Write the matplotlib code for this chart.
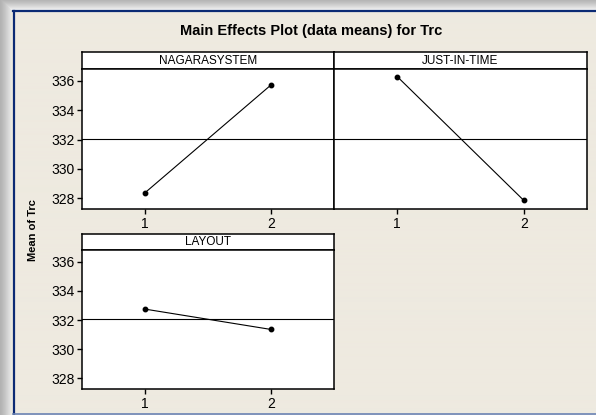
import numpy as np
import matplotlib
matplotlib.use('Agg')
import matplotlib.pyplot as plt

plt.rcParams['font.family'] = ['Liberation Sans', 'DejaVu Sans']

# level means of Trc for each factor
levels = [1, 2]
factors = ['NAGARASYSTEM', 'JUST-IN-TIME', 'LAYOUT']
nagara_means = [328.36, 335.73]
jit_means = [336.30, 327.84]
layout_means = [332.75, 331.35]
y_ticks = [328, 330, 332, 334, 336]

W, H = 596, 415


def px_box(left, top, right, bottom):
    return [left / W, 1 - bottom / H, (right - left) / W, (bottom - top) / H]


def draw_background(fig):
    bg = fig.add_axes([0, 0, 1, 1], zorder=-10)
    img = np.ones((H, W, 3)) * np.array([238, 234, 224]) / 255.
    # soft window shadow along the top and left edges
    for i in range(11):
        g = 0.70 + 0.24 * (i / 10.) ** 1.2
        img[i, i:, :] = g
    for j in range(13):
        g = 0.70 + 0.24 * (j / 12.) ** 1.2
        img[j:, j, :] = np.minimum(img[j:, j, :], g)
    bg.imshow(img, extent=(0, W, H, 0), aspect='auto', interpolation='bilinear')
    bg.plot([13, W], [11.5, 11.5], color='#0B2A74', lw=1.6)
    bg.plot([13.5, 13.5], [11, H], color='#0B2A74', lw=1.6)
    bg.plot([13, W], [413.5, 413.5], color='#6B84B4', lw=1.2)
    bg.set_xlim(0, W)
    bg.set_ylim(H, 0)
    bg.axis('off')


def draw_panel(fig, box, strip_box, name, means, grand, show_y):
    strip = fig.add_axes(px_box(*strip_box))
    strip.set_xticks([])
    strip.set_yticks([])
    strip.text(0.5, 0.5, name, ha='center', va='center', fontsize=8.5)
    for s in strip.spines.values():
        s.set_linewidth(1.1)

    ax = fig.add_axes(px_box(*box))
    ax.axhline(grand, color='black', lw=0.8)
    ax.plot(levels, means, color='black', lw=0.8, marker='o', ms=3.2)
    ax.set_xlim(0.5, 2.5)
    ax.set_ylim(327.25, 336.82)
    ax.set_xticks(levels)
    ax.tick_params(direction='out', length=3.5, width=1, labelsize=10, pad=2)
    if show_y:
        ax.set_yticks(y_ticks)
    else:
        ax.set_yticks([])
    for s in ax.spines.values():
        s.set_linewidth(1.1)
    return ax


fig = plt.figure(figsize=(W / 100, H / 100), dpi=100)
draw_background(fig)

grand = np.mean(nagara_means + jit_means + layout_means)

draw_panel(fig, (82, 69, 334, 209), (82, 52, 334, 69), factors[0], nagara_means, grand, True)
draw_panel(fig, (334, 69, 587, 209), (334, 52, 587, 69), factors[1], jit_means, grand, False)
draw_panel(fig, (82, 250, 334, 389), (82, 234, 334, 250), factors[2], layout_means, grand, True)

fig.text(311 / W, 1 - 31 / H, 'Main Effects Plot (data means) for Trc',
         ha='center', va='center', fontsize=10.5, fontweight='bold')
fig.text(33 / W, 1 - 230 / H, 'Mean of Trc', rotation=90,
         ha='center', va='center', fontsize=8, fontweight='bold')

fig.savefig('out.png', dpi=100)
